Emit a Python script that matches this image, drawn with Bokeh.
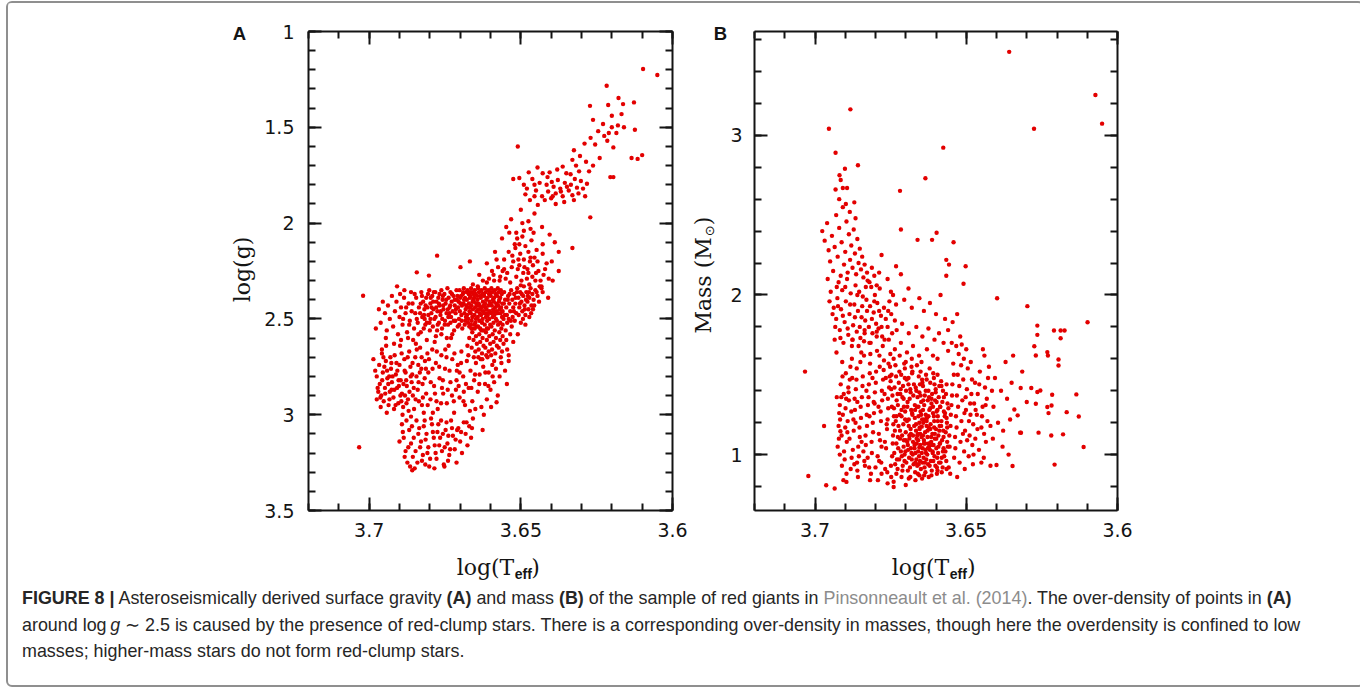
import math
from bokeh.plotting import figure
from bokeh.models import Range1d, FixedTicker, LinearAxis, Label, Div, Spacer, CustomJSTickFormatter
from bokeh.layouts import row, column
from bokeh.embed import file_html
from bokeh.resources import INLINE

# ---------------- tick values ----------------
teff_major = [3.6, 3.65, 3.7]
teff_minor = [3.60, 3.61, 3.62, 3.63, 3.64, 3.65, 3.66, 3.67, 3.68, 3.69, 3.70, 3.71, 3.72]
logg_major = [1, 1.5, 2, 2.5, 3, 3.5]
logg_minor = [1.0, 1.1, 1.2, 1.3, 1.4, 1.5, 1.6, 1.7, 1.8, 1.9, 2.0, 2.1, 2.2, 2.3, 2.4, 2.5,
              2.6, 2.7, 2.8, 2.9, 3.0, 3.1, 3.2, 3.3, 3.4, 3.5]
mass_major = [1, 2, 3]
mass_minor = [0.8, 1.0, 1.2, 1.4, 1.6, 1.8, 2.0, 2.2, 2.4, 2.6, 2.8, 3.0, 3.2, 3.4, 3.6]

# ---------------- panel A data: (log Teff, log g) ----------------
a_giant_branch = [
    (3.6097, 1.196), (3.6050, 1.227), (3.6217, 1.283), (3.6178, 1.347), (3.6163, 1.379), (3.6127, 1.370),
    (3.6212, 1.384), (3.6168, 1.431), (3.6124, 1.513), (3.6272, 1.388), (3.6262, 1.461), (3.6229, 1.483),
    (3.6200, 1.500), (3.6180, 1.490), (3.6210, 1.530), (3.6225, 1.545), (3.6185, 1.530), (3.6270, 1.555),
    (3.6255, 1.590), (3.6100, 1.645), (3.6135, 1.660), (3.6115, 1.665), (3.6215, 1.570), (3.6195, 1.605),
    (3.6200, 1.440), (3.6245, 1.520), (3.6290, 1.585), (3.6160, 1.500), (3.6325, 1.620), (3.6240, 1.660),
    (3.6305, 1.650), (3.6205, 1.760), (3.6195, 1.760), (3.6262, 1.700), (3.6285, 1.680), (3.6275, 1.730),
    (3.6330, 1.670), (3.6271, 1.970), (3.6510, 1.600),
]
a_branch_cluster = [
    (3.6525, 1.77), (3.6505, 1.765), (3.6480, 1.82), (3.6485, 1.85), (3.6470, 1.88), (3.6455, 1.80),
    (3.6450, 1.83), (3.6438, 1.79), (3.6430, 1.86), (3.6415, 1.80), (3.6410, 1.835), (3.6405, 1.735),
    (3.6400, 1.87), (3.6392, 1.81), (3.6385, 1.845), (3.6378, 1.775), (3.6370, 1.82), (3.6362, 1.86),
    (3.6355, 1.79), (3.6350, 1.74), (3.6342, 1.83), (3.6335, 1.80), (3.6330, 1.855), (3.6322, 1.77),
    (3.6315, 1.815), (3.6310, 1.845), (3.6302, 1.78), (3.6295, 1.82), (3.6288, 1.86), (3.6282, 1.795),
    (3.6380, 1.72), (3.6428, 1.74), (3.6362, 1.705), (3.6445, 1.71), (3.6412, 1.76), (3.6398, 1.785),
    (3.6348, 1.81), (3.6325, 1.88), (3.6455, 1.86), (3.6490, 1.80), (3.6368, 1.835), (3.6336, 1.745),
    (3.6308, 1.73), (3.6395, 1.86), (3.6421, 1.88), (3.6462, 1.77), (3.6357, 1.89), (3.6318, 1.70),
    (3.6444, 1.905), (3.6474, 1.735), (3.6385, 1.90),
]
a_branch_lower = [
    (3.6405, 2.06), (3.6388, 2.10), (3.6375, 2.15), (3.6330, 2.13), (3.6430, 2.02), (3.6455, 1.95),
    (3.6475, 1.99), (3.6500, 1.93), (3.6532, 1.98), (3.6548, 2.02), (3.6515, 2.05), (3.6495, 2.07),
    (3.6520, 2.11), (3.6540, 2.15), (3.6502, 2.16), (3.6485, 2.12), (3.6465, 2.09), (3.6448, 2.14),
    (3.6468, 2.18), (3.6445, 2.20), (3.6428, 2.16), (3.6415, 2.21), (3.6478, 2.24), (3.6505, 2.22),
    (3.6525, 2.20), (3.6555, 2.19), (3.6575, 2.23), (3.6545, 2.26), (3.6515, 2.28), (3.6492, 2.26),
    (3.6462, 2.28), (3.6442, 2.25), (3.6425, 2.27), (3.6408, 2.29), (3.6568, 2.28), (3.6595, 2.25),
    (3.6612, 2.21), (3.6588, 2.30), (3.6535, 2.31), (3.6498, 2.30), (3.6472, 2.32), (3.6452, 2.30),
    (3.6432, 2.33), (3.6395, 2.30), (3.6585, 2.15), (3.6605, 2.29), (3.6625, 2.30), (3.6637, 2.27),
    (3.6658, 2.32), (3.6642, 2.33), (3.6562, 2.08), (3.6458, 2.05), (3.6495, 2.00), (3.6468, 2.03),
    (3.6518, 2.13), (3.6475, 2.15), (3.6428, 2.11), (3.6398, 2.20), (3.6375, 2.25), (3.6475, 2.26),
    (3.6555, 2.24), (3.6612, 2.31), (3.6538, 2.05), (3.6505, 2.11), (3.6776, 2.17), (3.6668, 2.20),
    (3.6843, 2.257), (3.6803, 2.274), (3.6699, 2.23),
    (3.6590, 2.27), (3.6580, 2.19), (3.6570, 2.30), (3.6560, 2.25), (3.6550, 2.29), (3.6530, 2.23),
    (3.6510, 2.24), (3.6490, 2.19), (3.6480, 2.29), (3.6460, 2.22), (3.6450, 2.26), (3.6435, 2.30),
    (3.6420, 2.24), (3.6528, 2.17), (3.6508, 2.19), (3.6488, 2.23), (3.6470, 2.20), (3.6455, 2.18),
    (3.6512, 2.08), (3.6490, 2.04),
]
a_clump_core = [
    (3.6702, 2.35), (3.6697, 2.38), (3.6705, 2.41), (3.6694, 2.43), (3.6701, 2.46), (3.6696, 2.48), (3.6704, 2.50),
    (3.6691, 2.37), (3.6707, 2.44), (3.6688, 2.34), (3.6684, 2.39), (3.6689, 2.42), (3.6682, 2.45), (3.6686, 2.47),
    (3.6681, 2.49), (3.6690, 2.36), (3.6683, 2.51), (3.6687, 2.40), (3.6676, 2.35), (3.6672, 2.37), (3.6678, 2.40),
    (3.6671, 2.42), (3.6675, 2.44), (3.6669, 2.46), (3.6677, 2.48), (3.6673, 2.50), (3.6668, 2.39), (3.6674, 2.52),
    (3.6664, 2.34), (3.6661, 2.36), (3.6666, 2.38), (3.6659, 2.41), (3.6663, 2.43), (3.6658, 2.45), (3.6665, 2.47),
    (3.6660, 2.49), (3.6662, 2.51), (3.6657, 2.40), (3.6667, 2.44), (3.6652, 2.35), (3.6649, 2.37), (3.6654, 2.39),
    (3.6647, 2.42), (3.6651, 2.44), (3.6646, 2.46), (3.6653, 2.48), (3.6648, 2.50), (3.6655, 2.41), (3.6644, 2.38),
    (3.6650, 2.52), (3.6641, 2.34), (3.6638, 2.36), (3.6643, 2.40), (3.6636, 2.43), (3.6640, 2.45), (3.6635, 2.47),
    (3.6642, 2.49), (3.6637, 2.51), (3.6633, 2.38), (3.6639, 2.42), (3.6630, 2.35), (3.6627, 2.37), (3.6632, 2.39),
    (3.6625, 2.41), (3.6629, 2.44), (3.6624, 2.46), (3.6631, 2.48), (3.6626, 2.50), (3.6622, 2.43), (3.6628, 2.52),
    (3.6619, 2.34), (3.6616, 2.36), (3.6621, 2.38), (3.6614, 2.40), (3.6618, 2.42), (3.6613, 2.45), (3.6620, 2.47),
    (3.6615, 2.49), (3.6611, 2.51), (3.6617, 2.44), (3.6608, 2.35), (3.6605, 2.37), (3.6610, 2.39), (3.6603, 2.41),
    (3.6607, 2.43), (3.6602, 2.46), (3.6609, 2.48), (3.6604, 2.50), (3.6600, 2.42), (3.6597, 2.34), (3.6594, 2.36),
    (3.6599, 2.38), (3.6592, 2.40), (3.6596, 2.43), (3.6591, 2.45), (3.6598, 2.47), (3.6593, 2.49), (3.6589, 2.41),
    (3.6586, 2.35), (3.6583, 2.37), (3.6588, 2.39), (3.6581, 2.42), (3.6585, 2.44), (3.6580, 2.46), (3.6587, 2.48),
    (3.6582, 2.50), (3.6576, 2.34), (3.6573, 2.36), (3.6578, 2.38), (3.6571, 2.40), (3.6575, 2.43), (3.6570, 2.45),
    (3.6577, 2.47), (3.6572, 2.41), (3.6566, 2.35), (3.6563, 2.37), (3.6568, 2.39), (3.6561, 2.42), (3.6565, 2.44),
    (3.6560, 2.46), (3.6562, 2.49),
]
a_clump_fill = [
    (3.6832, 2.47), (3.6826, 2.38), (3.6820, 2.55), (3.6814, 2.43), (3.6806, 2.37), (3.6801, 2.52), (3.6794, 2.44),
    (3.6787, 2.36), (3.6781, 2.49), (3.6776, 2.56), (3.6770, 2.42), (3.6764, 2.46), (3.6757, 2.38), (3.6751, 2.53),
    (3.6746, 2.40), (3.6739, 2.49), (3.6733, 2.43), (3.6727, 2.37), (3.6721, 2.51), (3.6714, 2.45), (3.6709, 2.38),
    (3.6703, 2.53), (3.6699, 2.42), (3.6693, 2.55), (3.6685, 2.53), (3.6679, 2.36), (3.6670, 2.54), (3.6663, 2.55),
    (3.6656, 2.37), (3.6645, 2.54), (3.6634, 2.55), (3.6623, 2.56), (3.6612, 2.55), (3.6601, 2.53), (3.6590, 2.52),
    (3.6579, 2.51), (3.6568, 2.52), (3.6557, 2.50), (3.6546, 2.48), (3.6537, 2.37), (3.6527, 2.49), (3.6517, 2.39),
    (3.6507, 2.48), (3.6497, 2.37), (3.6487, 2.45), (3.6477, 2.38), (3.6466, 2.47), (3.6456, 2.43), (3.6448, 2.36),
    (3.6440, 2.41), (3.6432, 2.34), (3.6830, 2.42), (3.6817, 2.50), (3.6797, 2.39), (3.6779, 2.44), (3.6759, 2.50),
    (3.6736, 2.47), (3.6718, 2.40), (3.6700, 2.39), (3.6695, 2.51), (3.6680, 2.43), (3.6667, 2.36), (3.6654, 2.53),
    (3.6644, 2.43), (3.6633, 2.45), (3.6622, 2.37), (3.6611, 2.47), (3.6600, 2.36), (3.6589, 2.46), (3.6578, 2.43),
    (3.6567, 2.47), (3.6556, 2.42), (3.6543, 2.40), (3.6533, 2.51), (3.6523, 2.46), (3.6513, 2.36), (3.6503, 2.42),
    (3.6493, 2.50), (3.6483, 2.40), (3.6473, 2.36), (3.6460, 2.45), (3.6843, 2.50), (3.6850, 2.37), (3.6838, 2.58),
    (3.6860, 2.46), (3.6868, 2.53), (3.6855, 2.61), (3.6878, 2.44), (3.6888, 2.50), (3.6898, 2.37),
]
a_clump_left = [
    (3.6828, 2.36), (3.6822, 2.41), (3.6818, 2.45), (3.6825, 2.49), (3.6815, 2.53), (3.6830, 2.57), (3.6812, 2.39),
    (3.6808, 2.44), (3.6805, 2.48), (3.6810, 2.52), (3.6802, 2.35), (3.6798, 2.42), (3.6795, 2.47), (3.6800, 2.56),
    (3.6792, 2.38), (3.6788, 2.45), (3.6785, 2.50), (3.6790, 2.54), (3.6782, 2.36), (3.6778, 2.41), (3.6775, 2.46),
    (3.6780, 2.59), (3.6772, 2.39), (3.6768, 2.43), (3.6765, 2.48), (3.6770, 2.52), (3.6762, 2.35), (3.6758, 2.40),
    (3.6755, 2.45), (3.6760, 2.55), (3.6752, 2.37), (3.6748, 2.42), (3.6745, 2.47), (3.6750, 2.51), (3.6742, 2.34),
    (3.6738, 2.39), (3.6735, 2.44), (3.6740, 2.53), (3.6732, 2.36), (3.6728, 2.41), (3.6725, 2.46), (3.6730, 2.49),
    (3.6722, 2.38), (3.6718, 2.43), (3.6715, 2.47), (3.6720, 2.56), (3.6712, 2.35), (3.6716, 2.51), (3.6708, 2.54),
    (3.6784, 2.62), (3.6762, 2.58), (3.6744, 2.60), (3.6726, 2.58), (3.6810, 2.61), (3.6836, 2.44), (3.6840, 2.52),
    (3.6845, 2.39), (3.6798, 2.50), (3.6768, 2.37), (3.6732, 2.52), (3.6756, 2.43), (3.6789, 2.41), (3.6819, 2.48),
    (3.6774, 2.53), (3.6741, 2.45), (3.6711, 2.40), (3.6848, 2.47), (3.6852, 2.55), (3.6857, 2.42),
]
a_far_left = [
    (3.7020, 2.379), (3.6978, 2.55), (3.6968, 2.45), (3.6962, 2.52), (3.6955, 2.41), (3.6948, 2.47),
    (3.6942, 2.56), (3.6938, 2.43), (3.6932, 2.50), (3.6925, 2.38), (3.6921, 2.54), (3.6915, 2.46),
    (3.6910, 2.41), (3.6905, 2.58), (3.6900, 2.49), (3.6895, 2.44), (3.6890, 2.53), (3.6885, 2.39),
    (3.6880, 2.47), (3.6875, 2.57), (3.6870, 2.42), (3.6866, 2.51), (3.6862, 2.36), (3.6872, 2.60),
    (3.6895, 2.61), (3.6918, 2.63), (3.6945, 2.60), (3.6958, 2.66), (3.6884, 2.35), (3.6908, 2.33),
]
a_clump_right = [
    (3.6555, 2.36), (3.6552, 2.40), (3.6548, 2.44), (3.6553, 2.48), (3.6545, 2.52), (3.6550, 2.56), (3.6542, 2.38),
    (3.6538, 2.42), (3.6535, 2.46), (3.6540, 2.50), (3.6532, 2.35), (3.6528, 2.40), (3.6525, 2.44), (3.6530, 2.54),
    (3.6522, 2.37), (3.6518, 2.42), (3.6515, 2.47), (3.6520, 2.51), (3.6512, 2.34), (3.6508, 2.39), (3.6505, 2.44),
    (3.6510, 2.58), (3.6502, 2.36), (3.6498, 2.41), (3.6495, 2.46), (3.6500, 2.52), (3.6492, 2.38), (3.6488, 2.43),
    (3.6485, 2.48), (3.6490, 2.33), (3.6482, 2.36), (3.6478, 2.41), (3.6475, 2.45), (3.6472, 2.39), (3.6468, 2.34),
    (3.6465, 2.43), (3.6462, 2.37), (3.6458, 2.40), (3.6452, 2.35), (3.6445, 2.38), (3.6438, 2.33), (3.6500, 2.325),
    (3.6428, 2.36), (3.6410, 2.39), (3.6535, 2.58), (3.6548, 2.61), (3.6525, 2.62), (3.6485, 2.53), (3.6472, 2.49),
    (3.6560, 2.53),
]
a_clump_below = [
    (3.6665, 2.53), (3.6660, 2.57), (3.6656, 2.61), (3.6662, 2.65), (3.6652, 2.55), (3.6648, 2.59), (3.6645, 2.63),
    (3.6650, 2.67), (3.6641, 2.54), (3.6637, 2.58), (3.6634, 2.62), (3.6639, 2.66), (3.6630, 2.56), (3.6626, 2.60),
    (3.6623, 2.64), (3.6628, 2.68), (3.6619, 2.53), (3.6615, 2.57), (3.6612, 2.61), (3.6617, 2.65), (3.6608, 2.55),
    (3.6604, 2.59), (3.6601, 2.63), (3.6606, 2.67), (3.6597, 2.54), (3.6593, 2.58), (3.6590, 2.62), (3.6595, 2.66),
    (3.6586, 2.56), (3.6582, 2.60), (3.6579, 2.64), (3.6584, 2.68), (3.6575, 2.53), (3.6571, 2.57), (3.6568, 2.61),
    (3.6573, 2.65), (3.6564, 2.55), (3.6560, 2.59), (3.6557, 2.63), (3.6562, 2.67), (3.6670, 2.60), (3.6676, 2.64),
    (3.6655, 2.70), (3.6632, 2.71), (3.6610, 2.70), (3.6588, 2.72), (3.6566, 2.70), (3.6545, 2.66), (3.6540, 2.69),
    (3.6598, 2.69),
]
a_lower_left = [
    (3.6965, 2.84), (3.6960, 2.90), (3.6955, 2.78), (3.6952, 2.93), (3.6948, 2.86), (3.6945, 2.72), (3.6940, 2.81),
    (3.6936, 2.95), (3.6932, 2.88), (3.6928, 2.76), (3.6925, 2.83), (3.6920, 2.91), (3.6916, 2.69), (3.6912, 2.79),
    (3.6908, 2.86), (3.6904, 2.94), (3.6900, 2.74), (3.6896, 2.82), (3.6892, 2.89), (3.6888, 2.96), (3.6884, 2.71),
    (3.6880, 2.78), (3.6876, 2.85), (3.6872, 2.92), (3.6868, 2.67), (3.6864, 2.75), (3.6860, 2.83), (3.6856, 2.90),
    (3.6852, 2.97), (3.6848, 2.70), (3.6844, 2.80), (3.6840, 2.87), (3.6836, 2.93), (3.6832, 2.65), (3.6828, 2.76),
    (3.6824, 2.84), (3.6820, 2.99), (3.6816, 2.72), (3.6812, 2.89), (3.6808, 2.68), (3.6975, 2.80), (3.6970, 2.88),
    (3.6958, 2.68), (3.6944, 2.64), (3.6930, 2.70), (3.6918, 2.97), (3.6898, 2.64), (3.6890, 3.00), (3.6870, 2.98),
    (3.6942, 2.99), (3.6962, 2.96), (3.6910, 2.73), (3.6882, 2.90), (3.6858, 2.79), (3.6846, 2.63), (3.6926, 2.87),
    (3.6934, 2.80), (3.6902, 2.85), (3.6894, 2.93), (3.6878, 2.82), (3.6950, 2.75), (3.6838, 2.74), (3.6826, 2.95),
    (3.6980, 2.77), (3.6986, 2.71), (3.6975, 2.92),
    (3.6972, 2.86), (3.6967, 2.74), (3.6963, 2.91), (3.6957, 2.82), (3.6953, 2.70), (3.6947, 2.89), (3.6941, 2.77),
    (3.6937, 2.84), (3.6933, 2.92), (3.6927, 2.73), (3.6923, 2.80), (3.6917, 2.87), (3.6913, 2.95), (3.6907, 2.77),
    (3.6903, 2.82), (3.6897, 2.90), (3.6893, 2.68), (3.6887, 2.84), (3.6883, 2.77), (3.6877, 2.94), (3.6873, 2.70),
    (3.6867, 2.88), (3.6863, 2.80), (3.6857, 2.73), (3.6853, 2.86), (3.6847, 2.92), (3.6843, 2.66), (3.6837, 2.83),
    (3.6833, 2.78), (3.6827, 2.70), (3.6823, 2.91), (3.6817, 2.81), (3.6813, 2.76), (3.6807, 2.95), (3.6803, 2.71),
]
a_middle = [
    (3.6805, 2.78), (3.6798, 2.92), (3.6792, 2.66), (3.6786, 2.85), (3.6780, 2.73), (3.6774, 2.97), (3.6768, 2.81),
    (3.6762, 2.69), (3.6756, 2.89), (3.6750, 2.76), (3.6744, 2.94), (3.6738, 2.64), (3.6732, 2.83), (3.6726, 2.71),
    (3.6720, 2.99), (3.6714, 2.87), (3.6708, 2.74), (3.6702, 2.91), (3.6696, 2.67), (3.6690, 2.80), (3.6684, 2.95),
    (3.6678, 2.72), (3.6672, 2.86), (3.6666, 2.77), (3.6660, 2.93), (3.6654, 2.82), (3.6648, 2.73), (3.6642, 2.88),
    (3.6636, 2.79), (3.6630, 2.96), (3.6624, 2.75), (3.6618, 2.84), (3.6612, 2.92), (3.6606, 2.78), (3.6600, 2.87),
    (3.6594, 2.74), (3.6588, 2.83), (3.6582, 2.76), (3.6576, 2.90), (3.6570, 2.80), (3.6564, 2.73), (3.6580, 2.935),
    (3.6552, 2.77), (3.6546, 2.84), (3.6540, 2.72), (3.6730, 2.60), (3.6760, 2.86), (3.6790, 2.99), (3.6712, 2.82),
    (3.6688, 2.88), (3.6650, 2.97), (3.6622, 3.00), (3.6702, 2.78), (3.6745, 2.70), (3.6640, 2.70), (3.6598, 2.96),
    (3.6778, 2.93), (3.6721, 2.93), (3.6668, 2.98), (3.6614, 2.69),
    (3.6797, 2.83), (3.6791, 2.76), (3.6783, 2.89), (3.6777, 2.67), (3.6769, 2.75), (3.6763, 2.94), (3.6757, 2.82),
    (3.6749, 2.66), (3.6741, 2.87), (3.6735, 2.77), (3.6727, 2.90), (3.6719, 2.68), (3.6711, 2.77), (3.6705, 2.85),
    (3.6697, 2.73), (3.6689, 2.93), (3.6681, 2.84), (3.6673, 2.69), (3.6663, 2.86), (3.6651, 2.79), (3.6637, 2.84),
    (3.6627, 2.71), (3.6617, 2.78), (3.6607, 2.85), (3.6593, 2.80),
]
a_bottom = [
    (3.6892, 3.05), (3.6886, 3.12), (3.6880, 3.19), (3.6874, 3.25), (3.6868, 3.08), (3.6862, 3.15), (3.6856, 3.22),
    (3.6850, 3.28), (3.6844, 3.03), (3.6838, 3.10), (3.6832, 3.17), (3.6826, 3.24), (3.6820, 3.06), (3.6814, 3.13),
    (3.6808, 3.20), (3.6802, 3.27), (3.6796, 3.02), (3.6790, 3.09), (3.6784, 3.16), (3.6778, 3.23), (3.6772, 3.05),
    (3.6766, 3.12), (3.6760, 3.19), (3.6754, 3.26), (3.6748, 3.08), (3.6742, 3.15), (3.6736, 3.21), (3.6730, 3.03),
    (3.6724, 3.11), (3.6718, 3.18), (3.6712, 3.25), (3.6706, 3.07), (3.6700, 3.14), (3.6694, 3.20), (3.6688, 3.04),
    (3.6682, 3.10), (3.6676, 3.16), (3.6670, 3.06), (3.6664, 3.12), (3.6658, 3.02), (3.6626, 3.08), (3.7033, 3.17),
    (3.6858, 3.29), (3.6752, 3.27), (3.6740, 3.24), (3.6862, 3.01), (3.6815, 3.26), (3.6900, 3.14), (3.6785, 3.28),
    (3.6710, 3.08),
    (3.6889, 3.09), (3.6883, 3.22), (3.6877, 3.03), (3.6871, 3.17), (3.6865, 3.27), (3.6859, 3.06), (3.6853, 3.12),
    (3.6847, 3.19), (3.6841, 3.25), (3.6835, 3.07), (3.6829, 3.14), (3.6823, 3.21), (3.6817, 3.03), (3.6811, 3.10),
    (3.6805, 3.17), (3.6799, 3.23), (3.6793, 3.05), (3.6787, 3.12), (3.6781, 3.20), (3.6775, 3.09), (3.6769, 3.16),
    (3.6763, 3.03), (3.6757, 3.10), (3.6751, 3.17), (3.6745, 3.04), (3.6739, 3.11), (3.6733, 3.18), (3.6727, 3.07),
    (3.6715, 3.13), (3.6697, 3.09), (3.6679, 3.04), (3.6661, 3.07),
]

# ---------------- panel B data: (log Teff, mass in solar masses) ----------------
b_core = [
    (3.6735, 0.94), (3.6738, 1.01), (3.6731, 1.07), (3.6736, 1.15), (3.6733, 1.21), (3.6739, 1.29), (3.6730, 1.34),
    (3.6737, 1.42), (3.6732, 1.49), (3.6734, 1.56),
    (3.6722, 0.97), (3.6725, 1.04), (3.6719, 1.10), (3.6724, 1.18), (3.6720, 1.25), (3.6726, 1.31), (3.6718, 1.38),
    (3.6723, 1.45), (3.6721, 1.52), (3.6727, 0.91),
    (3.6710, 0.93), (3.6713, 0.99), (3.6707, 1.05), (3.6712, 1.12), (3.6708, 1.19), (3.6714, 1.24), (3.6706, 1.30),
    (3.6711, 1.36), (3.6709, 1.43), (3.6715, 1.50), (3.6705, 1.57),
    (3.6698, 0.95), (3.6701, 1.02), (3.6695, 1.08), (3.6700, 1.14), (3.6696, 1.21), (3.6702, 1.27), (3.6694, 1.33),
    (3.6699, 1.40), (3.6697, 1.47), (3.6703, 1.54), (3.6693, 0.90),
    (3.6686, 0.92), (3.6689, 0.98), (3.6683, 1.04), (3.6688, 1.10), (3.6684, 1.16), (3.6690, 1.22), (3.6682, 1.28),
    (3.6687, 1.35), (3.6685, 1.41), (3.6691, 1.48), (3.6681, 1.55),
    (3.6674, 0.94), (3.6677, 1.00), (3.6671, 1.06), (3.6676, 1.12), (3.6672, 1.18), (3.6678, 1.25), (3.6670, 1.31),
    (3.6675, 1.37), (3.6673, 1.44), (3.6679, 1.51), (3.6669, 0.89),
    (3.6662, 0.93), (3.6665, 0.97), (3.6659, 1.02), (3.6664, 1.07), (3.6660, 1.13), (3.6666, 1.19), (3.6658, 1.24),
    (3.6663, 1.30), (3.6661, 1.36), (3.6667, 1.42), (3.6657, 1.49), (3.6663, 1.56), (3.6660, 0.88),
    (3.6650, 0.91), (3.6653, 0.96), (3.6647, 1.01), (3.6652, 1.06), (3.6648, 1.11), (3.6654, 1.16), (3.6646, 1.22),
    (3.6651, 1.27), (3.6649, 1.33), (3.6655, 1.39), (3.6645, 1.45), (3.6651, 1.52), (3.6648, 1.58),
    (3.6638, 0.92), (3.6641, 0.98), (3.6635, 1.03), (3.6640, 1.09), (3.6636, 1.14), (3.6642, 1.20), (3.6634, 1.25),
    (3.6639, 1.31), (3.6637, 1.37), (3.6643, 1.43), (3.6633, 1.50), (3.6639, 0.87),
    (3.6626, 0.94), (3.6629, 1.00), (3.6623, 1.05), (3.6628, 1.11), (3.6624, 1.17), (3.6630, 1.23), (3.6622, 1.28),
    (3.6627, 1.34), (3.6625, 1.40), (3.6631, 1.47), (3.6621, 1.54),
    (3.6614, 0.90), (3.6617, 0.96), (3.6611, 1.02), (3.6616, 1.08), (3.6612, 1.13), (3.6618, 1.19), (3.6610, 1.26),
    (3.6615, 1.32), (3.6613, 1.38), (3.6619, 1.45), (3.6609, 1.51),
    (3.6602, 0.93), (3.6605, 0.99), (3.6599, 1.04), (3.6604, 1.10), (3.6600, 1.16), (3.6606, 1.21), (3.6598, 1.27),
    (3.6603, 1.34), (3.6601, 1.41), (3.6607, 1.48), (3.6597, 0.88),
    (3.6590, 0.95), (3.6593, 1.01), (3.6587, 1.07), (3.6592, 1.12), (3.6588, 1.18), (3.6594, 1.24), (3.6586, 1.30),
    (3.6591, 1.36), (3.6589, 1.43), (3.6595, 1.50),
    (3.6578, 0.92), (3.6581, 0.98), (3.6575, 1.04), (3.6580, 1.09), (3.6576, 1.15), (3.6582, 1.21), (3.6574, 1.27),
    (3.6579, 1.33), (3.6577, 1.40), (3.6583, 1.46),
    (3.6566, 0.96), (3.6569, 1.02), (3.6563, 1.08), (3.6568, 1.14), (3.6564, 1.20), (3.6570, 1.26), (3.6562, 1.32),
    (3.6567, 1.38), (3.6565, 1.44),
]
b_core_fill = [
    (3.6704, 1.00), (3.6692, 1.03), (3.6680, 0.97), (3.6668, 1.01), (3.6656, 0.99), (3.6644, 1.04), (3.6632, 0.97),
    (3.6620, 1.03), (3.6608, 1.06), (3.6596, 0.98), (3.6700, 1.09), (3.6688, 1.12), (3.6676, 1.08), (3.6664, 1.10),
    (3.6652, 1.13), (3.6640, 1.07), (3.6628, 1.15), (3.6616, 1.11), (3.6604, 1.13), (3.6592, 1.05), (3.6670, 1.23),
    (3.6655, 1.20), (3.6643, 1.28), (3.6631, 1.21), (3.6619, 1.29), (3.6607, 1.24), (3.6595, 1.28),
    (3.6729, 0.97), (3.6726, 1.11), (3.6731, 1.24), (3.6727, 1.38), (3.6716, 1.02), (3.6719, 1.15), (3.6714, 1.28),
    (3.6717, 1.41), (3.6704, 0.96), (3.6706, 1.09), (3.6702, 1.22), (3.6707, 1.35), (3.6703, 1.48), (3.6693, 1.06),
    (3.6690, 1.18), (3.6695, 1.30), (3.6691, 1.44), (3.6681, 1.01), (3.6683, 1.13), (3.6679, 1.26), (3.6684, 1.39),
    (3.6678, 1.52), (3.6668, 0.95), (3.6671, 1.04), (3.6666, 1.15), (3.6669, 1.28), (3.6665, 1.40), (3.6657, 0.94),
    (3.6655, 1.045), (3.6659, 1.09), (3.6654, 1.17), (3.6658, 1.30), (3.6653, 1.44), (3.6645, 0.95), (3.6643, 1.12),
    (3.6647, 1.175), (3.6642, 1.34), (3.6646, 1.47), (3.6633, 1.01), (3.6636, 1.07), (3.6631, 1.18), (3.6634, 1.40),
    (3.6621, 0.93), (3.6624, 1.07), (3.6619, 1.16), (3.6623, 1.36), (3.6609, 0.96), (3.6611, 1.01), (3.6606, 1.17),
    (3.6610, 1.30), (3.6605, 1.44), (3.6597, 0.92), (3.6599, 1.10), (3.6594, 1.21), (3.6598, 1.33), (3.6585, 0.95),
    (3.6587, 1.07), (3.6583, 1.18), (3.6586, 1.30), (3.6582, 1.43), (3.6573, 0.99), (3.6575, 1.11), (3.6571, 1.24),
    (3.6574, 1.36), (3.6561, 1.05), (3.6563, 1.17), (3.6559, 1.29), (3.6662, 1.12), (3.6649, 1.25), (3.6637, 0.95),
    (3.6625, 1.24), (3.6613, 1.06), (3.6601, 1.39), (3.6589, 1.15), (3.6577, 1.02), (3.6565, 1.23), (3.6651, 1.37),
    (3.6639, 1.22), (3.6627, 1.04), (3.6615, 1.35),
]
b_left_cloud = [
    (3.6925, 1.05), (3.6922, 1.18), (3.6918, 1.31), (3.6915, 1.44), (3.6912, 1.12), (3.6908, 1.25), (3.6905, 1.38),
    (3.6902, 0.97), (3.6898, 1.51), (3.6895, 1.08), (3.6892, 1.21), (3.6888, 1.34), (3.6885, 1.47), (3.6882, 0.91),
    (3.6878, 1.60), (3.6875, 1.03), (3.6872, 1.15), (3.6868, 1.28), (3.6865, 1.41), (3.6862, 1.54), (3.6858, 0.86),
    (3.6855, 0.99), (3.6852, 1.11), (3.6848, 1.23), (3.6845, 1.36), (3.6842, 1.49), (3.6838, 1.62), (3.6835, 0.93),
    (3.6832, 1.06), (3.6828, 1.18), (3.6825, 1.31), (3.6822, 1.44), (3.6818, 1.57), (3.6815, 0.88), (3.6812, 1.01),
    (3.6808, 1.14), (3.6805, 1.26), (3.6802, 1.39), (3.6798, 1.52), (3.6795, 1.65), (3.6792, 0.84), (3.6788, 0.96),
    (3.6785, 1.09), (3.6782, 1.21), (3.6778, 1.34), (3.6775, 1.47), (3.6772, 1.59), (3.6768, 0.91), (3.6765, 1.04),
    (3.6762, 1.16), (3.6758, 1.29), (3.6755, 1.42), (3.6752, 1.55), (3.6748, 0.86), (3.6745, 0.99), (3.6742, 1.12),
    (3.6739, 1.24), (3.6744, 1.37), (3.6747, 1.50), (3.6751, 1.63),
    (3.6920, 1.26), (3.6910, 1.58), (3.6900, 1.17), (3.6890, 1.42), (3.6880, 1.27), (3.6870, 0.94), (3.6860, 1.33),
    (3.6850, 1.58), (3.6840, 1.02), (3.6830, 1.40), (3.6820, 1.24), (3.6810, 1.48), (3.6800, 0.92), (3.6790, 1.30),
    (3.6780, 1.05), (3.6770, 1.38), (3.6760, 1.22), (3.6750, 1.46), (3.6740, 1.60), (3.6896, 0.88), (3.6876, 1.72),
    (3.6856, 1.68), (3.6836, 1.76), (3.6816, 1.70), (3.6796, 1.74), (3.6776, 1.68), (3.6756, 1.72), (3.6736, 1.66),
    (3.6716, 1.70), (3.6696, 1.64), (3.6676, 1.68), (3.6656, 1.62), (3.6928, 1.36), (3.6918, 1.00), (3.6886, 1.10),
    (3.6866, 1.20), (3.6846, 1.08), (3.6826, 0.98), (3.6806, 1.33), (3.6786, 1.55), (3.6766, 1.48), (3.6746, 1.30),
    (3.6906, 0.84), (3.6860, 0.90), (3.6818, 0.84), (3.6780, 0.88), (3.6740, 0.83), (3.6714, 0.86), (3.6690, 0.85),
    (3.6668, 0.84), (3.6646, 0.85), (3.6624, 0.86), (3.6700, 0.81), (3.6760, 0.82), (3.6896, 0.829), (3.6740, 0.7975),
    (3.6921, 1.10), (3.6917, 1.22), (3.6913, 1.36), (3.6909, 1.49), (3.6904, 1.02), (3.6899, 1.29), (3.6893, 1.14),
    (3.6889, 1.39), (3.6883, 1.55), (3.6879, 0.98), (3.6873, 1.22), (3.6869, 1.35), (3.6863, 1.47), (3.6857, 1.05),
    (3.6853, 1.17), (3.6849, 1.30), (3.6843, 1.43), (3.6837, 0.96), (3.6833, 1.12), (3.6829, 1.25), (3.6823, 1.36),
    (3.6819, 1.51), (3.6813, 1.08), (3.6809, 1.20), (3.6803, 1.32), (3.6799, 1.45), (3.6793, 0.99), (3.6789, 1.13),
    (3.6783, 1.27), (3.6779, 1.40), (3.6773, 1.53), (3.6769, 1.08), (3.6763, 1.19), (3.6759, 1.35), (3.6753, 1.49),
    (3.6749, 0.93), (3.6743, 1.07), (3.6741, 1.19), (3.6748, 1.41), (3.6757, 1.57), (3.6787, 1.62), (3.6817, 1.63),
    (3.6847, 1.64), (3.6877, 1.48), (3.6897, 1.35), (3.6911, 0.93), (3.6861, 0.95), (3.6821, 0.92), (3.6781, 0.95),
    (3.6761, 0.89), (3.6731, 0.88), (3.6711, 0.90), (3.6685, 0.86), (3.6655, 0.87), (3.6635, 0.89), (3.6615, 0.87),
    (3.6595, 0.90), (3.6581, 0.89), (3.6565, 0.91), (3.6553, 0.88),
]
b_right_cloud = [
    (3.6558, 0.92), (3.6555, 1.05), (3.6552, 1.18), (3.6549, 1.31), (3.6546, 1.44), (3.6543, 1.57), (3.6540, 0.98),
    (3.6537, 1.11), (3.6534, 1.24), (3.6531, 1.37), (3.6528, 1.50), (3.6525, 1.63), (3.6522, 0.95), (3.6519, 1.08),
    (3.6516, 1.21), (3.6513, 1.34), (3.6510, 1.47), (3.6507, 1.02), (3.6504, 1.15), (3.6501, 1.28), (3.6498, 1.41),
    (3.6495, 1.54), (3.6492, 0.99), (3.6489, 1.12), (3.6486, 1.25), (3.6483, 1.38), (3.6480, 1.06), (3.6477, 1.19),
    (3.6474, 1.32), (3.6471, 1.45), (3.6530, 0.86), (3.6548, 1.70), (3.6520, 1.74), (3.6508, 1.60), (3.6560, 1.65),
    (3.6500, 1.66), (3.6485, 1.58), (3.6470, 1.10), (3.6465, 1.25), (3.6462, 1.38), (3.6458, 1.03), (3.6455, 1.52),
    (3.6450, 1.17), (3.6446, 1.30), (3.6442, 0.98), (3.6438, 1.42), (3.6435, 1.08), (3.6430, 1.21),
    (3.6556, 1.12), (3.6551, 1.25), (3.6547, 1.37), (3.6541, 1.50), (3.6536, 1.04), (3.6532, 1.17), (3.6527, 1.30),
    (3.6523, 1.43), (3.6517, 1.56), (3.6511, 1.13), (3.6506, 1.26), (3.6502, 1.36), (3.6497, 1.09), (3.6491, 1.21),
    (3.6487, 1.32), (3.6481, 1.47), (3.6476, 1.00), (3.6469, 1.28), (3.6463, 1.16), (3.6457, 1.44), (3.6448, 1.24),
    (3.6441, 1.13), (3.6436, 1.31), (3.6428, 1.48), (3.6420, 1.18), (3.6415, 1.40), (3.6478, 0.94), (3.6505, 0.91),
    (3.6533, 1.68), (3.6515, 1.69),
]
b_upper_column = [
    (3.6935, 1.72), (3.6930, 1.85), (3.6926, 1.98), (3.6922, 2.08), (3.6918, 1.78), (3.6914, 1.91), (3.6910, 2.03),
    (3.6906, 1.70), (3.6902, 1.83), (3.6898, 1.96), (3.6894, 2.10), (3.6890, 1.75), (3.6886, 1.88), (3.6882, 2.01),
    (3.6878, 1.68), (3.6874, 1.81), (3.6870, 1.94), (3.6866, 2.06), (3.6862, 1.77), (3.6858, 1.90), (3.6854, 2.02),
    (3.6850, 1.73), (3.6846, 1.86), (3.6842, 1.99), (3.6838, 1.71), (3.6834, 1.84), (3.6830, 1.97), (3.6826, 2.09),
    (3.6822, 1.80), (3.6818, 1.93), (3.6814, 2.05), (3.6810, 1.76), (3.6806, 1.89), (3.6802, 2.00), (3.6798, 1.82),
    (3.6794, 1.95), (3.6790, 1.79), (3.6786, 2.04), (3.6782, 1.87), (3.6778, 1.74), (3.6772, 1.92), (3.6766, 1.85),
    (3.6760, 1.80), (3.6754, 1.96), (3.6748, 1.88), (3.6742, 2.00), (3.6736, 1.84), (3.6730, 1.78), (3.6938, 1.92),
    (3.6928, 2.05),
    (3.6933, 1.80), (3.6924, 1.93), (3.6916, 1.73), (3.6908, 1.87), (3.6900, 2.05), (3.6892, 1.79), (3.6884, 1.94),
    (3.6876, 1.72), (3.6868, 1.86), (3.6860, 2.00), (3.6852, 1.80), (3.6844, 1.93), (3.6836, 1.78), (3.6828, 1.90),
    (3.6820, 1.70), (3.6812, 1.85), (3.6804, 1.96), (3.6796, 1.77), (3.6788, 1.90), (3.6780, 1.80), (3.6770, 1.72),
    (3.6758, 1.90), (3.6745, 1.76), (3.6732, 1.94), (3.6948, 2.02), (3.6942, 1.88), (3.6952, 1.96), (3.6958, 2.10),
]
b_high_column = [
    (3.6976, 2.40), (3.6968, 2.34), (3.6960, 2.45), (3.6955, 2.28), (3.6950, 2.21), (3.6944, 2.37), (3.6940, 2.15),
    (3.6935, 2.30), (3.6930, 2.50), (3.6925, 2.24), (3.6920, 2.42), (3.6915, 2.12), (3.6912, 2.33), (3.6908, 2.55),
    (3.6904, 2.19), (3.6900, 2.27), (3.6896, 2.46), (3.6892, 2.14), (3.6888, 2.38), (3.6884, 2.22), (3.6880, 2.31),
    (3.6876, 2.17), (3.6872, 2.41), (3.6868, 2.26), (3.6864, 2.13), (3.6860, 2.35), (3.6856, 2.20), (3.6852, 2.29),
    (3.6848, 2.16), (3.6844, 2.24), (3.6840, 2.11), (3.6836, 2.19), (3.6832, 2.05), (3.6828, 2.14), (3.6820, 2.08),
    (3.6812, 2.17), (3.6804, 2.12), (3.6796, 2.06), (3.6788, 2.14),
]
b_high_sparse = [
    (3.6932, 2.66), (3.6908, 2.67), (3.6894, 2.67), (3.6919, 2.75), (3.6915, 2.72), (3.6901, 2.79), (3.6858, 2.8125),
    (3.6932, 2.891), (3.6954, 3.041), (3.6883, 3.1625), (3.6719, 2.652), (3.6635, 2.731), (3.6576, 2.9225),
    (3.6358, 3.5225), (3.6073, 3.252), (3.6051, 3.073), (3.6276, 3.041), (3.6920, 2.60), (3.6898, 2.57),
    (3.6870, 2.58), (3.6885, 2.52), (3.6866, 2.48),
]
b_mid_sparse = [
    (3.6716, 2.41), (3.6598, 2.39), (3.6661, 2.345), (3.6613, 2.345), (3.6542, 2.33), (3.6566, 2.22), (3.6557, 2.19),
    (3.6566, 2.12), (3.6502, 2.18), (3.6732, 2.18), (3.6716, 2.13), (3.6509, 2.07), (3.6691, 2.04), (3.6749, 2.02),
    (3.6780, 2.25), (3.6760, 2.10), (3.6705, 1.97), (3.6680, 1.92), (3.6655, 1.98), (3.6640, 1.90), (3.6620, 1.95),
    (3.6600, 1.88), (3.6585, 2.00), (3.6570, 1.85), (3.6712, 1.82), (3.6690, 1.76), (3.6665, 1.80), (3.6645, 1.74),
    (3.6625, 1.79), (3.6605, 1.72), (3.6590, 1.76), (3.6575, 1.70), (3.6560, 1.78), (3.6630, 1.66), (3.6610, 1.62),
    (3.6680, 1.60), (3.6700, 1.58), (3.6720, 1.62), (3.6595, 1.60), (3.6545, 1.83), (3.6530, 1.88),
]
b_cool_tail = [
    (3.6099, 1.829), (3.6298, 1.93), (3.6398, 1.979), (3.6112, 1.0475), (3.6208, 0.9375), (3.6128, 1.239),
    (3.6136, 1.377), (3.6168, 1.266), (3.6180, 1.127), (3.6219, 1.12), (3.6261, 1.1375), (3.6322, 1.1375),
    (3.6265, 1.808), (3.6265, 1.75), (3.6275, 1.679), (3.6270, 1.621), (3.6232, 1.642), (3.6230, 1.621),
    (3.6210, 1.777), (3.6188, 1.777), (3.6175, 1.777), (3.6188, 1.729), (3.6195, 1.596), (3.6195, 1.558),
    (3.6285, 1.417), (3.6265, 1.392), (3.6255, 1.402), (3.6270, 1.319), (3.6232, 1.298), (3.6218, 1.308),
    (3.6216, 1.375), (3.6228, 1.260), (3.6320, 1.417), (3.6341, 1.283), (3.6330, 1.246), (3.6319, 1.137),
    (3.6347, 0.929), (3.6400, 0.935), (3.6420, 0.93), (3.6450, 0.95), (3.6380, 1.05), (3.6395, 1.20),
    (3.6410, 1.30), (3.6385, 1.40), (3.6365, 1.35), (3.6350, 1.45), (3.6405, 1.48), (3.6425, 1.55),
    (3.6370, 1.58), (3.6440, 1.62), (3.6345, 1.62), (3.6315, 1.52), (3.6300, 1.33), (3.6355, 1.22),
    (3.6378, 1.15), (3.6412, 1.10), (3.6432, 1.35), (3.6360, 1.00), (3.6445, 1.66),
]
b_outliers = [
    (3.7033, 1.52), (3.6970, 1.179), (3.7022, 0.866), (3.6916, 1.146), (3.6929, 1.64), (3.6935, 0.7875),
    (3.6963, 0.808),
]

panel_a_groups = [a_giant_branch, a_branch_cluster, a_branch_lower, a_clump_core, a_clump_fill, a_clump_left,
                  a_far_left, a_clump_right, a_clump_below, a_lower_left, a_middle, a_bottom]
panel_b_groups = [b_core, b_core_fill, b_left_cloud, b_right_cloud, b_upper_column, b_high_column,
                  b_high_sparse, b_mid_sparse, b_cool_tail, b_outliers]

RED = "#e30000"
INK = "#141414"
SERIF = "DejaVu Serif"
SANS = "Liberation Sans"
TICK_FONT = "DejaVu Sans"
DOT = 4.4

# ---------------- page geometry (pixels) ----------------
OX, OY = 8, 3                  # content origin inside the outer rounded box
ROW_H = 577
FIG_H = 545                    # plot canvases; the x titles live in strips below them
TOP, FRAME_H = 28, 479
TA_W = 252                     # strip left of panel A ("A", log(g))
A_LEFT, A_FW, A_RIGHT = 48, 364, 17
TB_W = 38                      # strip left of panel B ("B", Mass)
B_LEFT, B_FW, B_RIGHT = 25, 365, 20
A_FIG_W = A_LEFT + A_FW + A_RIGHT
B_FIG_W = B_LEFT + B_FW + B_RIGHT
CONTENT_W = 1344
SPACER_W = CONTENT_W - TA_W - A_FIG_W - TB_W - B_FIG_W

A_X0 = OX + TA_W                          # page x where panel A canvas starts
B_X0 = A_X0 + A_FIG_W + TB_W              # page x where panel B canvas starts

tick_fmt = CustomJSTickFormatter(code="return String(Math.round(tick*1000)/1000);")
blank_fmt = CustomJSTickFormatter(code="return '';")


def make_panel(width, left, right, yr, ymajor, yminor, ystandoff):
    p = figure(width=width, height=FIG_H, output_backend="svg", toolbar_location=None,
               x_range=Range1d(3.72, 3.60), y_range=yr,
               min_border_left=left, min_border_right=right,
               min_border_top=TOP, min_border_bottom=FIG_H - TOP - FRAME_H,
               x_axis_location=None, y_axis_location=None)
    p.grid.visible = False
    p.outline_line_color = None
    p.background_fill_color = "white"
    p.border_fill_color = "white"
    for side in ("below", "left", "above", "right"):
        if side in ("below", "above"):
            ax = LinearAxis(ticker=FixedTicker(ticks=teff_major, minor_ticks=teff_minor))
        else:
            ax = LinearAxis(ticker=FixedTicker(ticks=ymajor, minor_ticks=yminor))
        ax.axis_line_color = INK
        ax.axis_line_width = 2
        ax.major_tick_line_color = INK
        ax.major_tick_line_width = 2
        ax.minor_tick_line_color = INK
        ax.minor_tick_line_width = 2
        ax.major_tick_in = 13
        ax.major_tick_out = 0
        ax.minor_tick_in = 7
        ax.minor_tick_out = 0
        if side in ("below", "left"):
            ax.formatter = tick_fmt
            ax.major_label_text_font = TICK_FONT
            ax.major_label_text_font_size = "19px"
            ax.major_label_text_color = INK
            ax.major_label_standoff = 12 if side == "below" else ystandoff
        else:
            ax.formatter = blank_fmt
            ax.major_label_standoff = 0
        p.add_layout(ax, side)
    return p


pa = make_panel(A_FIG_W, A_LEFT, A_RIGHT, Range1d(3.5, 1.0), logg_major, logg_minor, 14)
pb = make_panel(B_FIG_W, B_LEFT, B_RIGHT, Range1d(0.65, 3.65), mass_major, mass_minor, 12)

for grp in panel_a_groups:
    pa.scatter([t for t, g in grp], [g for t, g in grp], marker="circle", size=DOT,
               fill_color=RED, line_color=None)
for grp in panel_b_groups:
    pb.scatter([t for t, m in grp], [m for t, m in grp], marker="circle", size=DOT,
               fill_color=RED, line_color=None)


# ---------------- text strips (plain canvases whose frame is the whole canvas) ----------------
def text_canvas(w, h):
    p = figure(width=w, height=h, output_backend="svg", toolbar_location=None,
               x_range=Range1d(0, w), y_range=Range1d(h, 0), min_border=0,
               x_axis_location=None, y_axis_location=None)
    p.grid.visible = False
    p.xgrid.visible = False
    p.ygrid.visible = False
    p.outline_line_color = None
    p.background_fill_color = "white"
    p.border_fill_color = "white"
    return p


def lab(p, origin, X, Y, text, size, font=SERIF, style="normal", angle=0.0, align="left",
        baseline="alphabetic", color=INK):
    p.add_layout(Label(x=X - origin[0], y=Y - origin[1], text=text, text_font=font,
                       text_font_size=f"{size}px", text_font_style=style, angle=angle,
                       text_align=align, text_baseline=baseline, text_color=color))


ta = text_canvas(TA_W, ROW_H)
ta_o = (OX, OY)
tb = text_canvas(TB_W, ROW_H)
tb_o = (A_X0 + A_FIG_W, OY)
txa = text_canvas(A_FIG_W, ROW_H - FIG_H)
txa_o = (A_X0, OY + FIG_H)
txb = text_canvas(B_FIG_W, ROW_H - FIG_H)
txb_o = (B_X0, OY + FIG_H)

# panel letters
lab(ta, ta_o, 239, 33, "A", 18.5, font=SANS, style="bold", align="center", baseline="middle")
lab(tb, tb_o, 720, 33, "B", 18.5, font=SANS, style="bold", align="center", baseline="middle")

# y titles
lab(ta, ta_o, 242, 269, "log(g)", 22, angle=math.pi / 2, align="center", baseline="middle")
m1, m2, m3 = 84.0, 11.0, 8.5           # approximate extents of "Mass (M", the sun symbol, ")"
y_join = 269 + (m1 + m2 + m3) / 2 - m1
lab(tb, tb_o, 703, y_join, "Mass (M", 22, angle=math.pi / 2, align="right", baseline="middle")
lab(tb, tb_o, 709, y_join - 1, "\u2299", 13, font="DejaVu Sans", angle=math.pi / 2, align="left",
    baseline="middle")
lab(tb, tb_o, 703, y_join - 1 - m2, ")", 22, angle=math.pi / 2, align="left", baseline="middle")


def teff_title(p, origin, cx):
    w1, w2, w3 = 53.0, 19.5, 8.5       # approximate extents of "log(T", "eff", ")"
    x_join = cx - (w1 + w2 + w3) / 2 + w1
    lab(p, origin, x_join, 567, "log(T", 22, align="right")
    lab(p, origin, x_join + 0.5, 573, "eff", 14, font=SANS, style="bold")
    lab(p, origin, x_join + 0.5 + w2, 567, ")", 22)


teff_title(txa, txa_o, A_X0 + A_LEFT + A_FW / 2)
teff_title(txb, txb_o, B_X0 + B_LEFT + B_FW / 2)

caption_html = (
    '<b>FIGURE 8 |</b> Asteroseismically derived surface gravity <b>(A)</b> and mass <b>(B)</b> '
    'of the sample of red giants in <span style="color:#8c8c8c">Pinsonneault et al. (2014)</span>. '
    'The over-density of points in <b>(A)</b><br>'
    'around log&#8201;<i>g</i> &#8764; 2.5 is caused by the presence of red-clump stars. There is a '
    'corresponding over-density in masses, though here the overdensity is confined to low<br>'
    'masses; higher-mass stars do not form red-clump stars.'
)
caption = Div(text=caption_html, width=CONTENT_W, height=95,
              styles={"font-family": "'Liberation Sans', Arial, sans-serif", "font-size": "17.9px",
                      "line-height": "26.5px", "color": "#262626", "padding-left": "9px",
                      "padding-top": "0px", "white-space": "nowrap", "box-sizing": "border-box"})

top_row = row(ta, column(pa, txa, spacing=0), tb, column(pb, txb, spacing=0),
              Spacer(width=SPACER_W, height=ROW_H), spacing=0)
layout = column(top_row, caption, spacing=0,
                styles={"border": "2px solid #8f8f8f", "border-radius": "6px",
                        "margin-left": "6px", "margin-top": "1px", "box-sizing": "content-box",
                        "background-color": "white"})

open("out.html", "w").write(file_html(layout, INLINE))
